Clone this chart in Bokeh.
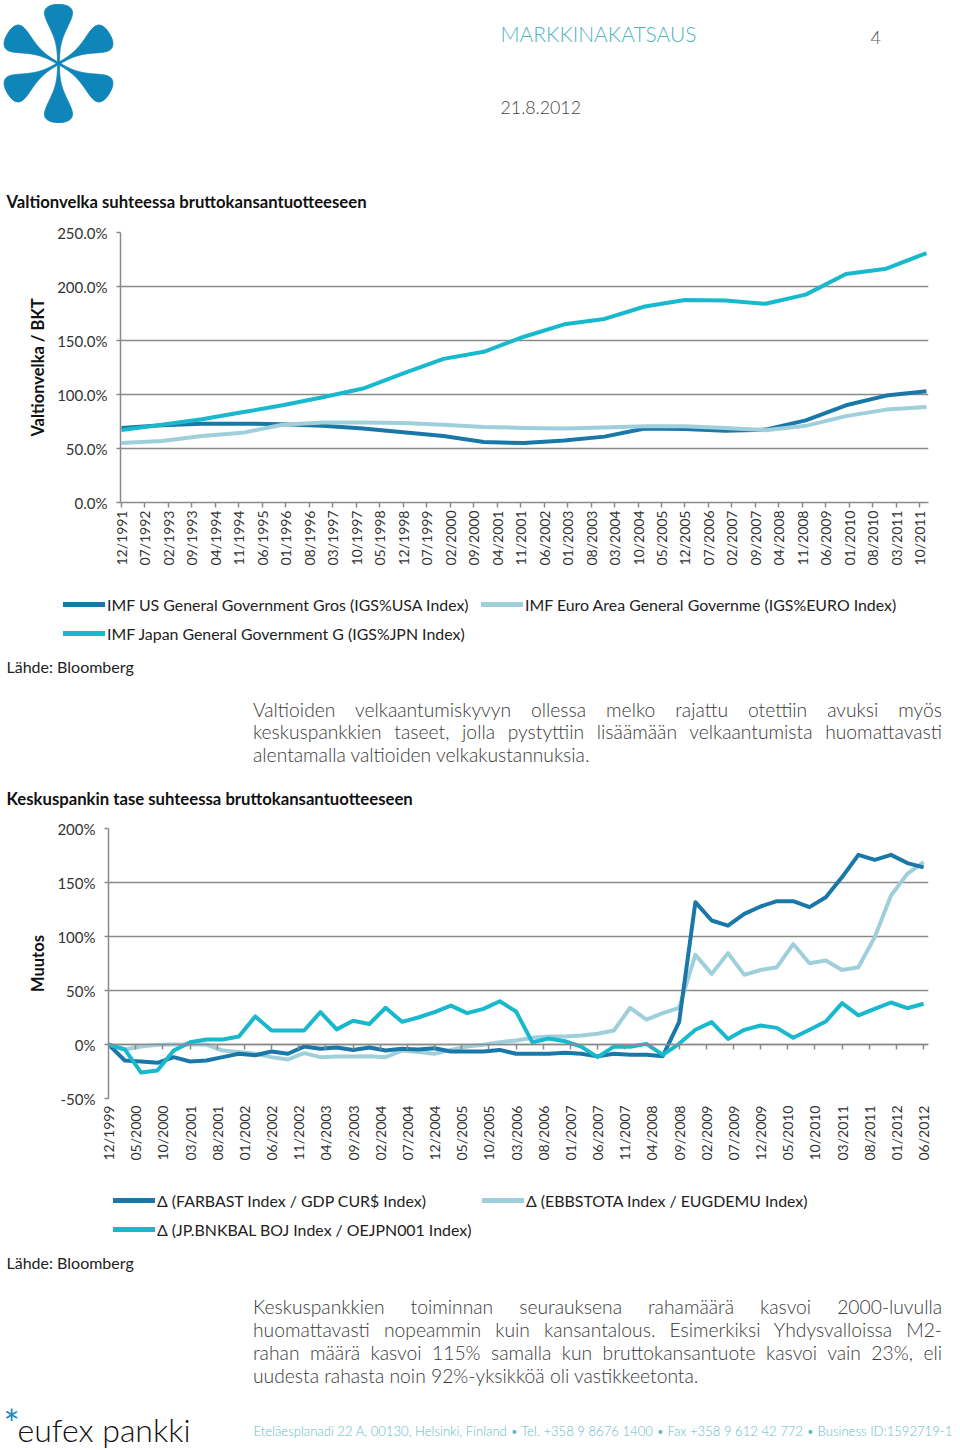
import math
import numpy as np
from bokeh.plotting import figure
from bokeh.models import (Range1d, FixedTicker, LinearAxis, Label, Legend, LegendItem,
                          Div, PrintfTickFormatter)
from bokeh.layouts import column
from bokeh.embed import file_html
from bokeh.resources import INLINE

# ---------------- DATA ----------------
# Chart 1: general government debt / GDP (%), year-end values
debt_years = list(range(1991, 2012))
us_debt = [69, 71.5, 73, 73, 72.5, 71, 68.5, 65, 61.5, 56, 55, 57.5, 61, 68.5, 68, 66.5, 67.5, 76, 90, 99, 103]
euro_debt = [55, 57, 61.5, 64.5, 72, 74, 74, 73.5, 72, 70, 69, 68.5, 69.5, 70.5, 70.5, 69, 67, 71, 80, 86, 88.5]
japan_debt = [67, 72, 77, 83.5, 90, 97.5, 105.5, 119.5, 133, 139.5, 153.5, 165, 170, 181.5, 187.5, 187, 184,
              192.5, 211.5, 216.5, 231]
debt_tick_labels = ["12/1991", "07/1992", "02/1993", "09/1993", "04/1994", "11/1994", "06/1995", "01/1996",
                    "08/1996", "03/1997", "10/1997", "05/1998", "12/1998", "07/1999", "02/2000", "09/2000",
                    "04/2001", "11/2001", "06/2002", "01/2003", "08/2003", "03/2004", "10/2004", "05/2005",
                    "12/2005", "07/2006", "02/2007", "09/2007", "04/2008", "11/2008", "06/2009", "01/2010",
                    "08/2010", "03/2011", "10/2011"]
debt_y_ticks = [0, 50, 100, 150, 200, 250]

# Chart 2: change of central bank balance sheet / GDP (%), quarterly from 12/1999 to 06/2012
us_cb = [0, -14.8, -15.7, -17, -11.7, -15.7, -14.8, -11.7, -8.6, -10, -6.5, -8.6, -1.9, -4, -2.8, -5, -2.8,
         -5.6, -4, -4.6, -3.4, -6.5, -6.5, -6.5, -5, -8.6, -8.6, -8.6, -7.7, -8.6, -11, -8.6, -9.6, -9.6,
         -10.8, 20.7, 131.8, 114.8, 110, 121, 127.8, 132.7, 132.7, 127.2, 136.4, 155, 175.6, 171, 175.6,
         168, 164]
eu_cb = [0, -4.6, -1.9, -0.3, 0, 0, 0, -5.6, -7, -8.6, -11.7, -13.9, -8, -11.7, -11, -11, -10.8, -11.7,
         -5.6, -7, -8.6, -5, -1.9, -0.3, 2.2, 3.7, 6.2, 7.4, 7.4, 8.3, 9.9, 13, 34, 23, 29, 34, 83, 65.4,
         84.6, 64.5, 69, 71.6, 93, 75.3, 77.8, 69, 71.6, 99.4, 138, 158, 168.8]
jp_cb = [0, -4.6, -26, -24, -5.5, 2, 4.6, 4.6, 7.4, 26, 13, 13, 13, 30, 14, 22, 19, 34, 21, 25, 30, 36, 29,
         33, 40, 30.5, 2, 5.5, 3, -2, -11.7, -2, -2, 0.6, -9.6, 0.6, 13.6, 20.7, 5.2, 13.6, 17.6, 15.4, 6.2,
         13.6, 21.3, 38.3, 26.9, 33, 38.9, 33.6, 37.7]
cb_tick_labels = ["12/1999", "05/2000", "10/2000", "03/2001", "08/2001", "01/2002", "06/2002", "11/2002",
                  "04/2003", "09/2003", "02/2004", "07/2004", "12/2004", "05/2005", "10/2005", "03/2006",
                  "08/2006", "01/2007", "06/2007", "11/2007", "04/2008", "09/2008", "02/2009", "07/2009",
                  "12/2009", "05/2010", "10/2010", "03/2011", "08/2011", "01/2012", "06/2012"]
cb_y_ticks = [-50, 0, 50, 100, 150, 200]

legend1_labels = ["IMF US General Government Gros (IGS%USA Index)",
                  "IMF Euro Area General Governme (IGS%EURO Index)",
                  "IMF Japan General Government G (IGS%JPN Index)"]
legend2_labels = ["\u0394 (FARBAST Index / GDP CUR$ Index)",
                  "\u0394 (EBBSTOTA Index / EUGDEMU Index)",
                  "\u0394 (JP.BNKBAL BOJ Index / OEJPN001 Index)"]

para1 = ["Valtioiden velkaantumiskyvyn ollessa melko rajattu otettiin avuksi myös",
         "keskuspankkien taseet, jolla pystyttiin lisäämään velkaantumista huomattavasti",
         "alentamalla valtioiden velkakustannuksia."]
para2 = ["Keskuspankkien toiminnan seurauksena rahamäärä kasvoi 2000-luvulla",
         "huomattavasti nopeammin kuin kansantalous. Esimerkiksi Yhdysvalloissa M2-",
         "rahan määrä kasvoi 115% samalla kun bruttokansantuote kasvoi vain 23%, eli",
         "uudesta rahasta noin 92%-yksikköä oli vastikkeetonta."]

# ---------------- STYLE ----------------
W = 960
FONT = "Lato"
LIGHT = "Lato Light"
C_US = "#1a78a8"
C_EU = "#a0cfdc"
C_JP = "#19b9cd"
GRID = "#8a8a8a"
LOGO = "#0e86b9"
TXT = "#222222"


def month_index(lab, y0, m0):
    m, y = lab.split("/")
    return (int(y) - y0) * 12 + (int(m) - m0)


def canvas(h):
    c = figure(width=W, height=h, x_range=Range1d(0, W), y_range=Range1d(h, 0),
               output_backend="svg", toolbar_location=None, min_border=0,
               x_axis_location=None, y_axis_location=None, frame_align=False)
    c.outline_line_color = None
    c.xgrid.visible = False
    c.ygrid.visible = False
    return c


def add_label(c, x, y, text, size, color=TXT, style="normal", baseline="middle", align="left", font=FONT):
    c.add_layout(Label(x=x, y=y, text=text, text_font=font, text_font_size=size, text_color=color,
                       text_font_style=style, text_baseline=baseline, text_align=align))


def add_legend(c, label, color, xs, ys, x, y):
    # hidden copy of the series, used only to draw the legend swatch
    r = c.line(x=xs, y=ys, line_color=color, line_width=5, line_cap="round", visible=False)
    lg = Legend(items=[LegendItem(label=label, renderers=[r])], location=(x, y),
                orientation="horizontal", glyph_width=42, glyph_height=20, label_height=20,
                label_standoff=2, padding=0, margin=0, spacing=0, border_line_color=None,
                background_fill_alpha=0, inactive_fill_alpha=0, label_text_font=FONT,
                label_text_font_size="15.9px", label_text_color=TXT)
    c.add_layout(lg)


def para_div(lines, h, pad_top, lh):
    html = (f'<div style="margin:0 0 0 253px;width:689px;padding-top:{pad_top}px;font-family:Lato;'
            f'font-weight:300;font-size:19.3px;line-height:{lh}px;color:#3a3a3a;">')
    for i, ln in enumerate(lines):
        al = "left" if i == len(lines) - 1 else "justify"
        html += f'<div style="text-align:{al};text-align-last:{al};">{ln}</div>'
    html += "</div>"
    return Div(text=html, width=W, height=h, margin=(0, 0, 0, 0))


def style_axes(p, ylabel, y_ticks, yfmt, x_ticks, x_labels):
    p.outline_line_color = None
    p.xgrid.grid_line_color = None
    p.ygrid.ticker = FixedTicker(ticks=y_ticks)
    p.ygrid.grid_line_color = GRID
    p.ygrid.grid_line_width = 1.5
    ya = p.yaxis[0]
    ya.ticker = FixedTicker(ticks=y_ticks)
    ya.formatter = PrintfTickFormatter(format=yfmt)
    ya.axis_label = ylabel
    ya.axis_label_text_font = FONT
    ya.axis_label_text_font_size = "16.5px"
    ya.axis_label_text_font_style = "bold"
    ya.axis_label_text_color = "#111111"
    ya.axis_label_standoff = 6
    ya.major_label_text_font = FONT
    ya.major_label_text_font_size = "15px"
    ya.major_label_text_color = "#333333"
    ya.major_label_standoff = 9
    ya.major_tick_out = 4
    ya.major_tick_in = 0
    ya.major_tick_line_color = GRID
    ya.major_tick_line_width = 1.5
    ya.minor_tick_line_color = None
    ya.axis_line_color = GRID
    ya.axis_line_width = 1.5
    xa = p.xaxis[0]
    xa.ticker = FixedTicker(ticks=x_ticks)
    xa.major_label_overrides = {t: lab for t, lab in zip(x_ticks, x_labels)}
    xa.major_label_orientation = math.pi / 2
    xa.major_label_text_font = FONT
    xa.major_label_text_font_size = "14px"
    xa.major_label_text_color = "#333333"
    xa.minor_tick_line_color = None
    xa.major_tick_line_color = GRID
    xa.major_tick_line_width = 1.5
    xa.axis_line_color = GRID
    xa.axis_line_width = 1.5


# ---------------- HEADER ----------------
head = canvas(215)
cx, cy = 58, 63
L, WMAX, EXP = 59.0, 13.0, 3.0
t_max = EXP / (EXP + 0.5)
norm = t_max ** EXP * math.sqrt(1 - t_max)
for ang in [90, 30, -30, -90, -150, 150]:
    a = math.radians(ang)
    ux, uy = math.cos(a), -math.sin(a)
    vx, vy = -uy, ux
    t = np.linspace(0, 1, 240)
    ws = 1.0 + WMAX / norm * (t ** EXP) * np.sqrt(1 - t)
    ws[-1] = 0.0
    us = t * L
    xs = np.concatenate([cx + us * ux + ws * vx, (cx + us * ux - ws * vx)[::-1]])
    ys = np.concatenate([cy + us * uy + ws * vy, (cy + us * uy - ws * vy)[::-1]])
    head.patch(xs, ys, color=LOGO, line_color=LOGO)
add_label(head, 500, 33, "MARKKINAKATSAUS", "21px", color="#52b4c1", font=LIGHT)
add_label(head, 870, 37, "4", "18px", color="#555555", font=LIGHT)
add_label(head, 500, 107, "21.8.2012", "17.8px", color="#444444", font=LIGHT)
add_label(head, 6, 201, "Valtionvelka suhteessa bruttokansantuotteeseen", "16.7px", color="#111111",
          style="bold")

# ---------------- CHART 1 ----------------
debt_x = [(y - 1991) * 12 for y in debt_years]
debt_ticks = [month_index(l, 1991, 12) for l in debt_tick_labels]
p1 = figure(width=W, height=375, x_range=Range1d(-0.3, 240.6), y_range=Range1d(0, 250),
            output_backend="svg", toolbar_location=None, frame_align=False,
            min_border_left=120, min_border_right=32, min_border_top=17, min_border_bottom=88)
style_axes(p1, "Valtionvelka / BKT", debt_y_ticks, "%.1f%%", debt_ticks, debt_tick_labels)
p1.xaxis.major_tick_out = 5
p1.xaxis.major_tick_in = 0
p1.xaxis.major_label_standoff = 3
p1.line(debt_x, us_debt, line_color=C_US, line_width=4, line_join="round")
p1.line(debt_x, euro_debt, line_color=C_EU, line_width=4, line_join="round")
p1.line(debt_x, japan_debt, line_color=C_JP, line_width=4, line_join="round")

# ---------------- LEGEND 1 / SOURCE ----------------
mid1 = canvas(100)
add_legend(mid1, legend1_labels[0], C_US, debt_x, us_debt, 63, 76)
add_legend(mid1, legend1_labels[1], C_EU, debt_x, euro_debt, 481, 76)
add_legend(mid1, legend1_labels[2], C_JP, debt_x, japan_debt, 63, 47)
add_label(mid1, 6, 76, "Lähde: Bloomberg", "16px")

div1 = para_div(para1, 85, 8.75, 22.5)

title2 = canvas(40)
add_label(title2, 6, 23, "Keskuspankin tase suhteessa bruttokansantuotteeseen", "16.7px", color="#111111",
          style="bold")

# ---------------- CHART 2 ----------------
cb_x = [3 * k for k in range(len(us_cb))]
cb_ticks = [month_index(l, 1999, 12) for l in cb_tick_labels]
p2 = figure(width=W, height=370, x_range=Range1d(0, 150.9), y_range=Range1d(-50, 200),
            output_backend="svg", toolbar_location=None, frame_align=False,
            min_border_left=108, min_border_right=32, min_border_top=13, min_border_bottom=87)
style_axes(p2, "Muutos", cb_y_ticks, "%d%%", cb_ticks, cb_tick_labels)
p2.xaxis.axis_line_color = None
p2.xaxis.major_tick_line_color = None
p2.xaxis.major_tick_out = 0
p2.xaxis.major_tick_in = 0
p2.xaxis.major_label_standoff = 7
zero_axis = LinearAxis(fixed_location=0, ticker=FixedTicker(ticks=cb_ticks),
                       major_label_text_color=None, major_label_text_font_size="1px",
                       major_label_standoff=0, major_tick_in=5, major_tick_out=0,
                       major_tick_line_color=GRID, major_tick_line_width=1.5,
                       minor_tick_line_color=None, axis_line_color=GRID, axis_line_width=1.5)
p2.add_layout(zero_axis, "above")
p2.line(cb_x, eu_cb, line_color=C_EU, line_width=4, line_join="round")
p2.line(cb_x, us_cb, line_color=C_US, line_width=4, line_join="round")
p2.line(cb_x, jp_cb, line_color=C_JP, line_width=4, line_join="round")

# ---------------- LEGEND 2 / SOURCE ----------------
mid2 = canvas(100)
add_legend(mid2, legend2_labels[0], C_US, cb_x, us_cb, 113, 75)
add_legend(mid2, legend2_labels[1], C_EU, cb_x, eu_cb, 482, 75)
add_legend(mid2, legend2_labels[2], C_JP, cb_x, jp_cb, 113, 46)
add_label(mid2, 6, 77, "Lähde: Bloomberg", "16px")

div2 = para_div(para2, 110, 9.5, 23)

# ---------------- FOOTER ----------------
foot = canvas(55)
add_label(foot, 3, 27, "*", "38px", color="#1a8ac0")
add_label(foot, 17, 34, "eufex pankki", "32px", color="#111111", font=LIGHT)
add_label(foot, 253, 35, "Eteläesplanadi 22 A, 00130, Helsinki, Finland \u2022 Tel. +358 9 8676 1400 \u2022 "
          "Fax +358 9 612 42 772 \u2022 Business ID:1592719-1", "13.1px", color="#5fbdca", font=LIGHT)

page = column(head, p1, mid1, div1, title2, p2, mid2, div2, foot, spacing=0)
open("out.html", "w").write(file_html(page, INLINE))
